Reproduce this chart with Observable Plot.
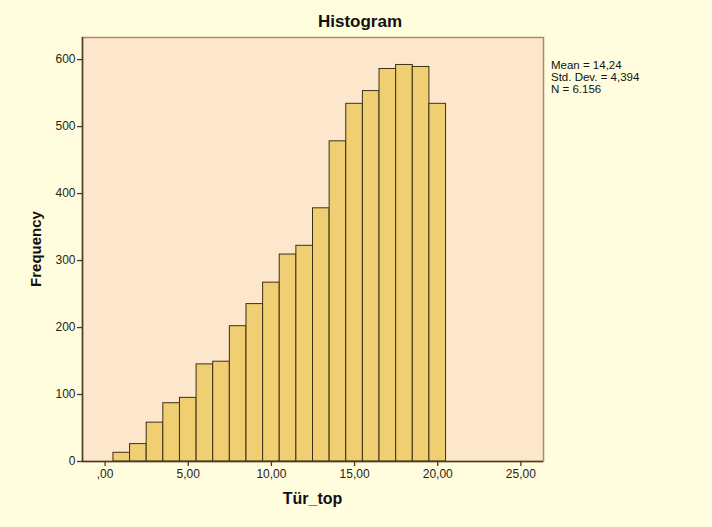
<!DOCTYPE html>
<html>
<head>
<meta charset="utf-8">
<script src="https://cdn.jsdelivr.net/npm/d3@7"></script>
<script src="https://cdn.jsdelivr.net/npm/@observablehq/plot@0.6"></script>
<style>
  html, body { margin: 0; padding: 0; background: #FFFDDE; }
  #wrap { position: relative; width: 712px; height: 527px; font-family: "Liberation Sans", Arial, sans-serif; color: #111; }
  #title { position: absolute; left: 0; width: 720px; top: 12px; text-align: center; font-weight: bold; font-size: 17px; }
  #stats { position: absolute; left: 551px; top: 59px; font-size: 11.5px; line-height: 12px; color: #111; }
  #stats div { height: 12px; overflow: visible; }
  #xlabel { position: absolute; left: 82px; width: 461px; top: 490px; text-align: center; font-weight: bold; font-size: 16px; }
  #ylabel { position: absolute; left: 35px; top: 249px; transform: translate(-50%, -50%) rotate(-90deg); font-weight: bold; font-size: 15px; white-space: nowrap; }
  svg { position: absolute; left: 0; top: 0; }
</style>
</head>
<body>
<div id="wrap">
  <div id="title">Histogram</div>
  <div id="ylabel">Frequency</div>
  <div id="xlabel">Tür_top</div>
  <div id="stats"></div>
</div>
<script>
// Data (bins of width 1 centred on integers)
const binCenters = [1, 2, 3, 4, 5, 6, 7, 8, 9, 10, 11, 12, 13, 14, 15, 16, 17, 18, 19, 20];
const counts = [13, 26, 58, 87, 95, 145, 149, 202, 235, 267, 309, 322, 378, 478, 534, 553, 586, 592, 589, 534];
const binWidth = 1;
const xTicks = [0, 5, 10, 15, 20, 25];
const xTickLabels = [",00", "5,00", "10,00", "15,00", "20,00", "25,00"];
const yTicks = [0, 100, 200, 300, 400, 500, 600];
const statLines = ["Mean = 14,24", "Std. Dev. = 4,394", "N = 6.156"];
const xDomain = [-1.36, 26.36];
const yDomain = [0, 633];

const bins = binCenters.map((c, i) => ({x1: c - binWidth / 2, x2: c + binWidth / 2, count: counts[i]}));

const axisColor = "#4a3a28";
const chart = Plot.plot({
  width: 712,
  height: 527,
  marginLeft: 82,
  marginRight: 169,
  marginTop: 37,
  marginBottom: 66,
  style: {background: "transparent", fontFamily: "'Liberation Sans', Arial, sans-serif", fontSize: "12px", color: "#2a2218"},
  x: {domain: xDomain},
  y: {domain: yDomain},
  marks: [
    Plot.frame({fill: "#FDE7CC", stroke: "#B08A60", strokeWidth: 1.5}),
    Plot.rectY(bins, {x1: "x1", x2: "x2", y: "count", fill: "#F0CE72", stroke: "#3d3018", strokeWidth: 1}),
    Plot.ruleX([xDomain[0]], {stroke: axisColor, strokeWidth: 1.5}),
    Plot.ruleY([yDomain[0]], {stroke: axisColor, strokeWidth: 1.5}),
    Plot.axisX({ticks: xTicks, tickFormat: (d) => xTickLabels[xTicks.indexOf(d)], tickSize: 5, tickPadding: 3, stroke: axisColor, strokeWidth: 1.3, label: null, fill: "#2a2218"}),
    Plot.axisY({ticks: yTicks, tickSize: 5, tickPadding: 2, stroke: axisColor, strokeWidth: 1.3, label: null, fill: "#2a2218"})
  ]
});
document.getElementById("wrap").appendChild(chart);
const stats = document.getElementById("stats");
statLines.forEach(t => { const d = document.createElement("div"); d.textContent = t; stats.appendChild(d); });
</script>
</body>
</html>
